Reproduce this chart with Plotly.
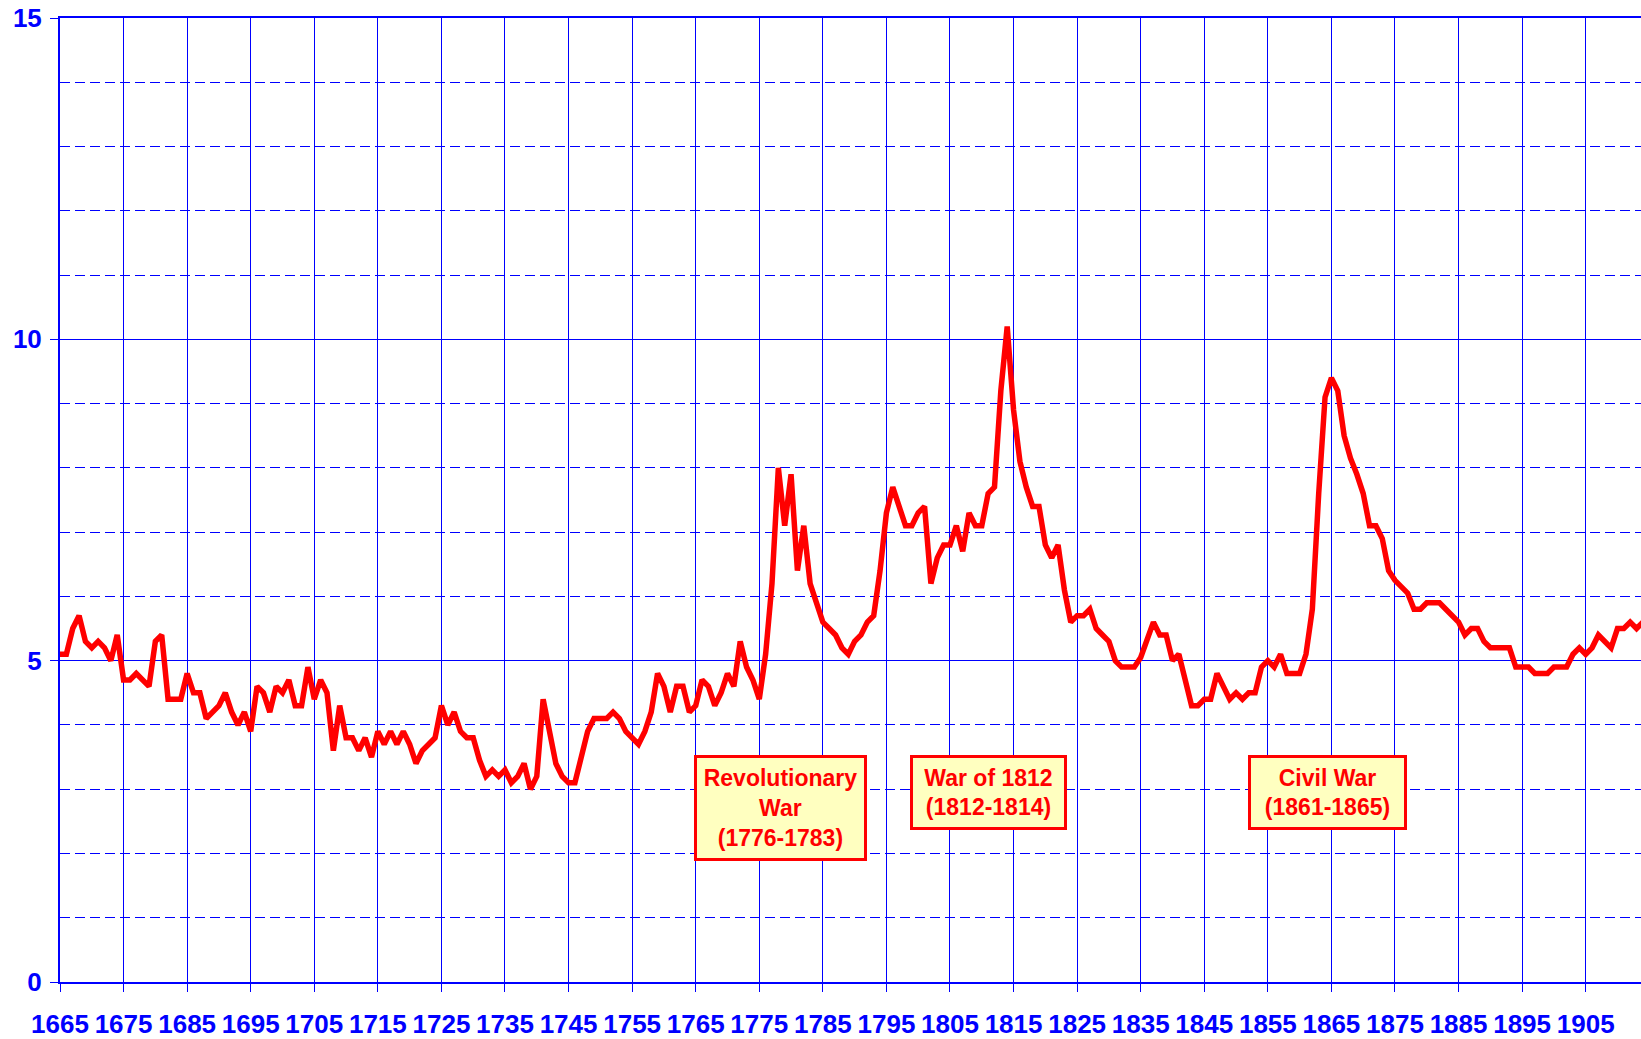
import plotly.graph_objects as go

# ---- data -------------------------------------------------------------
years = list(range(1665, 1915))

rates = [
    5.1, 5.1, 5.5, 5.7, 5.3, 5.2, 5.3, 5.2, 5.0, 5.4,      # 1665-1674
    4.7, 4.7, 4.8, 4.7, 4.6, 5.3, 5.4, 4.4, 4.4, 4.4,      # 1675-1684
    4.8, 4.5, 4.5, 4.1, 4.2, 4.3, 4.5, 4.2, 4.0, 4.2,      # 1685-1694
    3.9, 4.6, 4.5, 4.2, 4.6, 4.5, 4.7, 4.3, 4.3, 4.9,      # 1695-1704
    4.4, 4.7, 4.5, 3.6, 4.3, 3.8, 3.8, 3.6, 3.8, 3.5,      # 1705-1714
    3.9, 3.7, 3.9, 3.7, 3.9, 3.7, 3.4, 3.6, 3.7, 3.8,      # 1715-1724
    4.3, 4.0, 4.2, 3.9, 3.8, 3.8, 3.45, 3.2, 3.3, 3.2,     # 1725-1734
    3.3, 3.1, 3.2, 3.4, 3.0, 3.2, 4.4, 3.95, 3.4, 3.2,     # 1735-1744
    3.1, 3.1, 3.5, 3.9, 4.1, 4.1, 4.1, 4.2, 4.1, 3.9,      # 1745-1754
    3.8, 3.7, 3.9, 4.2, 4.8, 4.6, 4.2, 4.6, 4.6, 4.2,      # 1755-1764
    4.3, 4.7, 4.6, 4.3, 4.5, 4.8, 4.6, 5.3, 4.9, 4.7,      # 1765-1774
    4.4, 5.1, 6.2, 8.0, 7.1, 7.9, 6.4, 7.1, 6.2, 5.9,      # 1775-1784
    5.6, 5.5, 5.4, 5.2, 5.1, 5.3, 5.4, 5.6, 5.7, 6.4,      # 1785-1794
    7.3, 7.7, 7.4, 7.1, 7.1, 7.3, 7.4, 6.2, 6.6, 6.8,      # 1795-1804
    6.8, 7.1, 6.7, 7.3, 7.1, 7.1, 7.6, 7.7, 9.2, 10.2,     # 1805-1814
    8.9, 8.1, 7.7, 7.4, 7.4, 6.8, 6.6, 6.8, 6.1, 5.6,      # 1815-1824
    5.7, 5.7, 5.8, 5.5, 5.4, 5.3, 5.0, 4.9, 4.9, 4.9,      # 1825-1834
    5.05, 5.3, 5.6, 5.4, 5.4, 5.0, 5.1, 4.7, 4.3, 4.3,     # 1835-1844
    4.4, 4.4, 4.8, 4.6, 4.4, 4.5, 4.4, 4.5, 4.5, 4.9,      # 1845-1854
    5.0, 4.9, 5.1, 4.8, 4.8, 4.8, 5.1, 5.8, 7.6, 9.1,      # 1855-1864
    9.4, 9.2, 8.5, 8.15, 7.9, 7.6, 7.1, 7.1, 6.9, 6.4,     # 1865-1874
    6.25, 6.15, 6.05, 5.8, 5.8, 5.9, 5.9, 5.9, 5.8, 5.7,   # 1875-1884
    5.6, 5.4, 5.5, 5.5, 5.3, 5.2, 5.2, 5.2, 5.2, 4.9,      # 1885-1894
    4.9, 4.9, 4.8, 4.8, 4.8, 4.9, 4.9, 4.9, 5.1, 5.2,      # 1895-1904
    5.1, 5.2, 5.4, 5.3, 5.2, 5.5, 5.5, 5.6, 5.5, 5.6,      # 1905-1914
]

x_tick_vals = [1665, 1675, 1685, 1695, 1705, 1715, 1725, 1735, 1745, 1755, 1765,
               1775, 1785, 1795, 1805, 1815, 1825, 1835, 1845, 1855, 1865, 1875,
               1885, 1895, 1905]
x_tick_labels = ["1665", "1675", "1685", "1695", "1705", "1715", "1725", "1735",
                 "1745", "1755", "1765", "1775", "1785", "1795", "1805", "1815",
                 "1825", "1835", "1845", "1855", "1865", "1875", "1885", "1895",
                 "1905"]
y_tick_vals = [0, 5, 10, 15]
y_tick_labels = ["0", "5", "10", "15"]

war_labels = ["Revolutionary<br>War<br>(1776-1783)",
              "War of 1812<br>(1812-1814)",
              "Civil War<br>(1861-1865)"]

# ---- styling ----------------------------------------------------------
BLUE = "rgb(0,0,255)"
RED = "rgb(255,0,0)"
FONT = "Liberation Sans, Arial, sans-serif"

fig = go.Figure()
fig.add_trace(go.Scatter(
    x=years, y=rates, mode="lines",
    line=dict(color=RED, width=5.5),
    hoverinfo="skip", showlegend=False,
))

x_font = dict(family=FONT, size=26, color=BLUE, weight="bold")
y_font = dict(family=FONT, size=26, color=BLUE, weight="bold")

fig.update_layout(
    width=1641, height=1039,
    margin=dict(l=60, r=0, t=18, b=51),
    paper_bgcolor="white", plot_bgcolor="white",
    showlegend=False,
    xaxis=dict(
        range=[1665, 1913.7],
        tickmode="array", tickvals=x_tick_vals, ticktext=x_tick_labels,
        showgrid=True, gridcolor=BLUE, gridwidth=1,
        showline=True, linecolor=BLUE, linewidth=2, mirror=True,
        ticks="outside", ticklen=8, tickcolor=BLUE, tickwidth=1,
        tickfont=x_font, zeroline=False,
        ticklabelstandoff=10,
    ),
    yaxis=dict(
        range=[0, 15],
        tickmode="array", tickvals=y_tick_vals, ticktext=y_tick_labels,
        showgrid=True, gridcolor=BLUE, gridwidth=1,
        minor=dict(dtick=1, showgrid=True, gridcolor=BLUE, gridwidth=1,
                   griddash="10px,5px", ticks=""),
        showline=True, linecolor=BLUE, linewidth=2,
        ticks="outside", ticklen=8, tickcolor=BLUE, tickwidth=1,
        tickfont=y_font, zeroline=False,
        ticklabelstandoff=3,
    ),
)

box_specs = [
    (war_labels[0], 1778.3, 167, 100),
    (war_labels[1], 1811.0, 151, 69),
    (war_labels[2], 1864.4, 153, 69),
]
for text, xc, w, h in box_specs:
    fig.add_annotation(
        x=xc, y=3.54, xref="x", yref="y",
        xanchor="center", yanchor="top",
        text=text, showarrow=False,
        font=dict(family=FONT, size=23, color=RED, weight="bold"),
        bgcolor="#FFFFC0", bordercolor=RED, borderwidth=3, borderpad=0,
        width=w, height=h,
    )

fig.write_html(
    "out.html",
    config={"displayModeBar": False},
    post_script="document.body.style.margin='0px';"
                "document.documentElement.style.overflow='hidden';",
)
